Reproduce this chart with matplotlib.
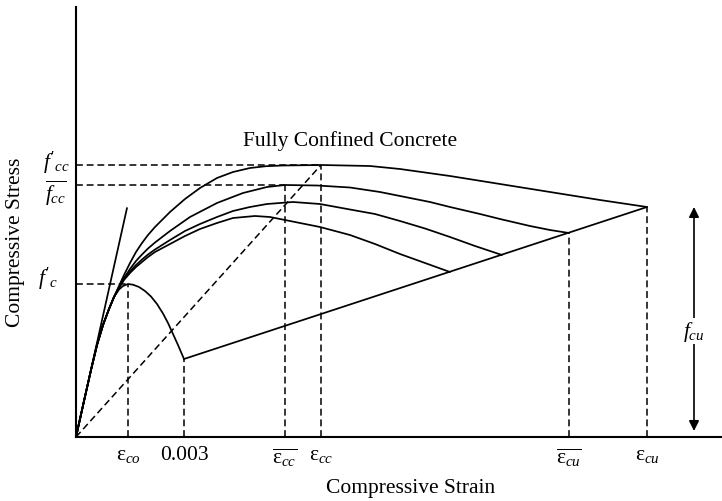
import matplotlib
matplotlib.use("Agg")
import matplotlib.pyplot as plt

plt.rcParams["font.family"] = ["Liberation Serif", "DejaVu Serif"]
plt.rcParams["mathtext.fontset"] = "custom"
plt.rcParams["mathtext.rm"] = "Liberation Serif"
plt.rcParams["mathtext.it"] = "Liberation Serif:italic"

# Schematic stress-strain data (arbitrary units)
rise_strain = [0, 8, 15, 21, 27, 33, 38]
rise_stress = [0, 36, 67, 92, 112, 128, 140]

unconf_strain = [43, 47, 52, 57, 63, 69, 75, 81, 87, 92, 97, 102, 108]
unconf_stress = [147.5, 151, 153, 152.3, 150, 146, 140.5, 133, 123.5, 114, 103, 92, 78]

full_strain = [43, 48, 54, 60, 66, 72, 79, 94, 109, 124, 141, 157, 174, 190,
               207, 245, 294, 324, 374, 424, 474, 524, 571]
full_stress = [151, 162, 174, 185, 194, 202, 210, 225, 238, 249, 259, 265, 269,
               270.8, 271.5, 272, 271, 268, 261, 253, 245, 237, 230]

c2_strain = [43, 48, 54, 60, 66, 72, 79, 94, 114, 141, 167, 191, 209, 241, 274,
             304, 324, 354, 374, 404, 424, 454, 474, 493]
c2_stress = [150, 159, 168, 176, 182.5, 188.5, 194.5, 206, 220, 234, 244, 250,
             252, 251.5, 249.5, 245, 241, 235, 230, 223, 218, 211, 207, 204]

c3_strain = [43, 48, 54, 60, 66, 72, 79, 94, 109, 124, 141, 157, 174, 191, 217,
             244, 274, 299, 324, 349, 374, 399, 426]
c3_stress = [149.5, 158, 165.5, 172, 177.5, 182.5, 187.5, 197, 206, 213, 220,
             226, 230, 233, 235, 233, 227.5, 223, 216, 208.5, 200, 191, 182]

c4_strain = [43, 48, 54, 60, 66, 72, 79, 94, 109, 124, 141, 157, 179, 194, 214,
             244, 274, 299, 324, 349, 374]
c4_stress = [149, 157, 164, 170, 175, 180, 185, 193, 201, 208, 214, 219, 221,
             220, 216, 210, 202, 193, 183, 174, 165]

# Ultimate-strain line from the spalling point to the fully confined end
ult_strain = [108, 571]
ult_stress = [78, 230]

tangent_strain = [0, 51]
tangent_stress = [0, 229]

# Key strain / stress values
eps_co, eps_003, eps_cc_bar, eps_cc, eps_cu_bar, eps_cu = 52, 108, 209, 245, 493, 571
fc, fcc_bar, fcc = 153, 252, 272
fcu_top = 230

fig = plt.figure(figsize=(7.22, 5.02), dpi=100)
ax = fig.add_axes([76 / 722, 64 / 502, 646 / 722, 430 / 502])
ax.set_xlim(0, 646)
ax.set_ylim(0, 430)
for s in ("top", "right"):
    ax.spines[s].set_visible(False)
for s in ("left", "bottom"):
    ax.spines[s].set_linewidth(1.5)
    ax.spines[s].set_color("black")

lw = 1.25
k = dict(color="black", lw=lw, solid_capstyle="round", solid_joinstyle="round")
ax.plot(rise_strain + unconf_strain, rise_stress + unconf_stress, **k)
for xs, ys in [(full_strain, full_stress), (c2_strain, c2_stress),
               (c3_strain, c3_stress), (c4_strain, c4_stress)]:
    ax.plot(rise_strain + xs, rise_stress + ys, **k)
ax.plot(ult_strain, ult_stress, **k)
ax.plot(tangent_strain, tangent_stress, **k)

d = dict(color="black", lw=1.1, ls=(0, (4.5, 2.5)))
ax.plot([0, eps_co], [fc, fc], **d)
ax.plot([eps_co, eps_co], [0, fc], **d)
ax.plot([eps_003, eps_003], [0, ult_stress[0]], **d)
ax.plot([0, eps_cc], [fcc, fcc], **d)
ax.plot([0, eps_cc_bar], [fcc_bar, fcc_bar], **d)
ax.plot([eps_cc_bar, eps_cc_bar], [0, fcc_bar], **d)
ax.plot([eps_cc, eps_cc], [0, fcc], **d)
ax.plot([eps_cu_bar, eps_cu_bar], [0, c2_stress[-1]], **d)
ax.plot([eps_cu, eps_cu], [0, ult_stress[-1]], **d)
ax.plot([0, eps_cc], [0, fcc], **d)

fs = 15.5
ax.set_xticks([eps_co, eps_003, eps_cc_bar, eps_cc, eps_cu_bar, eps_cu])
ax.set_xticklabels([r"$\mathrm{ε}_{co}$", "0.003", r"$\overline{\mathrm{ε}_{cc}}$",
                    r"$\mathrm{ε}_{cc}$", r"$\overline{\mathrm{ε}_{cu}}$",
                    r"$\mathrm{ε}_{cu}$"], fontsize=fs)
ax.tick_params(axis="x", length=0, pad=6)
ax.set_yticks([])

ax.text(-28, fc + 6, r"$f'_{c}$", fontsize=fs, ha="center", va="center")
ax.text(-20, fcc + 3, r"$f'_{cc}$", fontsize=fs, ha="center", va="center")
ax.text(-20, fcc_bar - 7, r"$\overline{f_{cc}}$", fontsize=fs, ha="center", va="center")

ax.text(274, 297, "Fully Confined Concrete", fontsize=fs, ha="center", va="center")
fig.text(411 / 722, 1 - 489 / 502, "Compressive Strain", fontsize=fs,
         ha="center", va="center")
fig.text(16 / 722, 1 - 242 / 502, "Compressive Stress", fontsize=fs,
         ha="center", va="center", rotation=90)

ax.annotate("", xy=(618, fcu_top), xytext=(618, 6),
            arrowprops=dict(arrowstyle="<|-|>", color="black", lw=1.2,
                            mutation_scale=15, shrinkA=0, shrinkB=0))
ax.text(618, 106, r"$f_{cu}$", fontsize=fs, ha="center", va="center",
        bbox=dict(facecolor="white", edgecolor="none", pad=1))

fig.savefig("out.png", dpi=100)
